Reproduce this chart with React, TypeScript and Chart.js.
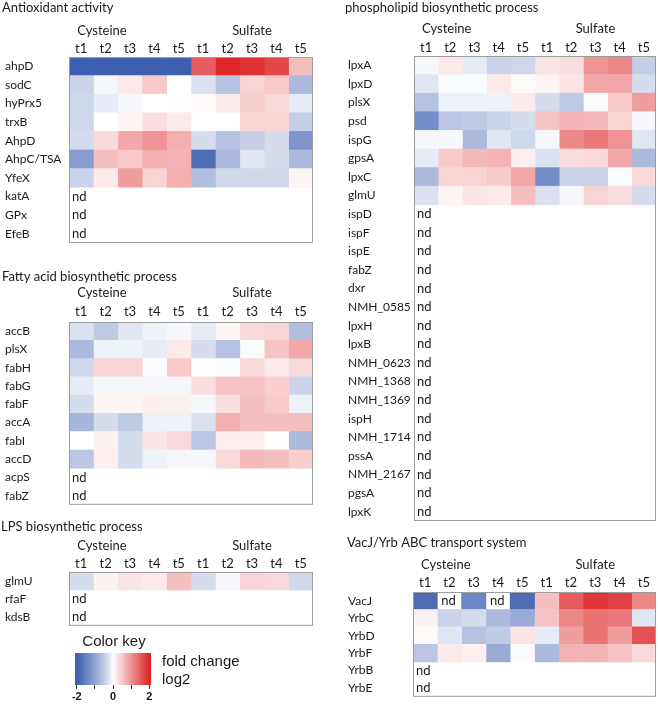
import React, { useEffect, useRef } from "react";
import { Chart, registerables } from "chart.js";

Chart.register(...registerables);

// ---------- data ----------
const timeLabels = ["t1", "t2", "t3", "t4", "t5", "t1", "t2", "t3", "t4", "t5"];
const groupLabels = ["Cysteine", "Sulfate"];

type Row = (number | null)[] | null;

const antioxGenes = ["ahpD", "sodC", "hyPrx5", "trxB", "AhpD", "AhpC/TSA", "YfeX", "katA", "GPx", "EfeB"];
const antioxValues: Row[] = [
  [-2, -2, -2, -2, -2, 1.5, 2.0, 1.9, 1.7, 0.6],
  [-0.4, -0.05, 0.2, 0.5, 0.0, -0.25, -0.6, 0.4, 0.5, -0.7],
  [-0.35, -0.15, -0.05, 0.0, 0.02, 0.05, 0.2, 0.45, 0.35, -0.15],
  [-0.35, 0.0, 0.1, 0.3, 0.2, 0.0, 0.0, 0.4, 0.4, -0.45],
  [-0.3, 0.35, 0.8, 1.0, 0.75, -0.3, -0.6, -0.45, -0.3, -1.2],
  [-1.1, 0.6, 0.5, 0.75, 0.7, -1.8, -0.7, -0.2, -0.3, -0.7],
  [-0.4, 0.2, 0.9, 0.4, 0.75, -0.65, -0.35, -0.35, -0.35, 0.1],
  null,
  null,
  null,
];

const phosphoGenes = [
  "lpxA", "lpxD", "plsX", "psd", "ispG", "gpsA", "lpxC", "glmU", "ispD", "ispF", "ispE", "fabZ", "dxr",
  "NMH_0585", "lpxH", "lpxB", "NMH_0623", "NMH_1368", "NMH_1369", "ispH", "NMH_1714", "pssA", "NMH_2167", "pgsA", "lpxK",
];
const phosphoValues: Row[] = [
  [-0.05, 0.2, -0.15, -0.4, -0.35, 0.25, 0.3, 1.0, 1.1, -0.45],
  [-0.2, -0.02, -0.02, 0.2, 0.05, 0.1, 0.25, 0.8, 0.8, -0.3],
  [-0.6, -0.1, -0.1, -0.1, 0.2, -0.3, -0.5, -0.02, 0.5, 0.9],
  [-1.3, -0.55, -0.5, -0.4, -0.3, 0.55, 0.7, 0.65, 0.4, -0.05],
  [-0.05, -0.05, -0.7, -0.2, -0.35, -0.05, 1.1, 1.25, 1.0, -0.2],
  [-0.15, 0.5, 0.65, 0.7, 0.15, -0.25, 0.3, 0.35, 0.8, -0.7],
  [-0.7, 0.4, 0.4, 0.5, 0.8, -1.3, -0.4, -0.4, -0.02, 0.35],
  [-0.25, 0.1, 0.25, 0.2, 0.6, -0.25, -0.05, 0.4, 0.3, -0.3],
  null, null, null, null, null, null, null, null, null, null, null, null, null, null, null, null, null,
];

const fattyGenes = ["accB", "plsX", "fabH", "fabG", "fabF", "accA", "fabI", "accD", "acpS", "fabZ"];
const fattyValues: Row[] = [
  [-0.25, -0.5, -0.2, -0.1, -0.05, -0.15, 0.1, 0.35, 0.4, -0.65],
  [-0.7, -0.1, -0.1, -0.15, 0.2, -0.3, -0.6, -0.02, 0.55, 0.8],
  [-0.35, 0.4, 0.4, -0.02, 0.5, 0.0, -0.02, 0.35, 0.2, 0.35],
  [-0.15, -0.05, -0.05, -0.05, -0.05, 0.3, 0.55, 0.55, 0.45, -0.4],
  [-0.3, 0.1, 0.1, 0.15, 0.12, -0.05, 0.3, 0.6, 0.5, -0.1],
  [-0.75, -0.3, -0.5, -0.1, -0.1, -0.25, 0.75, 0.6, 0.6, 0.6],
  [0.0, 0.12, -0.3, 0.25, 0.35, -0.55, 0.15, 0.15, 0.02, -0.7],
  [-0.55, 0.15, -0.3, -0.1, -0.05, -0.05, 0.35, 0.65, 0.6, 0.45],
  null,
  null,
];

const lpsGenes = ["glmU", "rfaF", "kdsB"];
const lpsValues: Row[] = [
  [-0.3, 0.12, 0.25, 0.2, 0.6, -0.3, -0.05, 0.4, 0.35, -0.35],
  null,
  null,
];

const vacGenes = ["VacJ", "YrbC", "YrbD", "YrbF", "YrbB", "YrbE"];
const vacValues: Row[] = [
  [-1.8, null, -1.4, null, -1.8, 0.6, 1.5, 1.85, 1.75, 1.1],
  [0.12, -0.4, -0.3, -0.7, -0.9, 0.55, 1.1, 1.3, 1.25, -0.2],
  [0.05, -0.2, -0.6, -0.5, 0.25, -0.15, 0.9, 1.3, 0.9, 1.6],
  [-0.55, 0.2, 0.15, -0.9, -0.02, -0.7, 0.7, 0.7, 0.55, 0.35],
  null,
  null,
];

const keyRange = [-2.1, 2.1];
const keyTicks = [-2, -1, 0, 1, 2];
const keyTickLabels = ["-2", "", "0", "", "2"];

// ---------- styling ----------
const FONT = "Lato, 'Open Sans', 'DejaVu Sans', sans-serif";
const KEY_FONT = "'Liberation Sans', Arial, sans-serif";
const TEXT = "#1a1a1a";
const BLUE = [62, 96, 176];
const RED = [222, 38, 40];
const MID = [255, 255, 255];

function heatColor(v: number): string {
  let t = Math.min(1, Math.abs(v) / 2);
  if (v < 0) t = Math.pow(t, 0.8);
  const e = v < 0 ? BLUE : RED;
  const c = MID.map((m, i) => Math.round(m + (e[i] - m) * t));
  return `rgb(${c[0]},${c[1]},${c[2]})`;
}

type Rect = { x: number; y: number; w: number; h: number };
type Box = { l: number; t: number; r: number; b: number };
type PanelCfg = {
  title: string;
  genes: string[];
  values: Row[];
  canvas: Rect;
  box: Box;
  labelX: number;
  titleX: number;
  titleY: number;
  groupY: number;
  tY: number;
};

const panels: PanelCfg[] = [
  {
    title: "Antioxidant activity", genes: antioxGenes, values: antioxValues,
    canvas: { x: 0, y: 0, w: 330, h: 252 }, box: { l: 69, t: 57, r: 313, b: 243 },
    labelX: 5, titleX: 2, titleY: 8, groupY: 31, tY: 50,
  },
  {
    title: "phospholipid biosynthetic process", genes: phosphoGenes, values: phosphoValues,
    canvas: { x: 330, y: 0, w: 328, h: 530 }, box: { l: 414, t: 56, r: 656, b: 521 },
    labelX: 348, titleX: 345, titleY: 8, groupY: 29, tY: 50,
  },
  {
    title: "Fatty acid biosynthetic process", genes: fattyGenes, values: fattyValues,
    canvas: { x: 0, y: 262, w: 330, h: 250 }, box: { l: 69, t: 322, r: 313, b: 506 },
    labelX: 5, titleX: 2, titleY: 277, groupY: 293, tY: 312,
  },
  {
    title: "LPS biosynthetic process", genes: lpsGenes, values: lpsValues,
    canvas: { x: 0, y: 515, w: 330, h: 118 }, box: { l: 69, t: 572, r: 313, b: 628 },
    labelX: 5, titleX: 1, titleY: 527, groupY: 546, tY: 564,
  },
  {
    title: "VacJ/Yrb ABC transport system", genes: vacGenes, values: vacValues,
    canvas: { x: 330, y: 532, w: 328, h: 172 }, box: { l: 413, t: 592, r: 656, b: 702 },
    labelX: 348, titleX: 347, titleY: 543, groupY: 565, tY: 583,
  },
];

const groupPositions = [1.35, 7.5];
const AXIS_H = 20;

function makeHeatmap(canvas: HTMLCanvasElement, p: PanelCfg): Chart {
  const cx = p.canvas.x;
  const cy = p.canvas.y;
  const lineHalf = 13 * 1.2 / 2;
  const tickPad = Math.max(0, p.box.t - p.tY - lineHalf);
  const datasets = timeLabels.map((_, j) => ({
    label: `c${j}`,
    data: p.values.map((row) => (row == null || row[j] == null ? null : [j, j + 1])) as any,
    backgroundColor: p.values.map((row) =>
      row == null || row[j] == null ? "rgba(0,0,0,0)" : heatColor(row[j] as number)
    ),
    borderWidth: 0,
    grouped: false,
    barPercentage: 1,
    categoryPercentage: 1,
    xAxisID: "x",
    yAxisID: "y",
  }));

  const overlay = {
    id: "overlay" + p.title,
    afterDraw(chart: any) {
      const ctx = chart.ctx as CanvasRenderingContext2D;
      const ca = chart.chartArea;
      const xs = chart.scales.x;
      const ys = chart.scales.y;
      ctx.save();
      ctx.fillStyle = TEXT;
      ctx.font = `13px ${FONT}`;
      ctx.textBaseline = "middle";
      ctx.textAlign = "left";
      ctx.fillText(p.title, p.titleX - cx, p.titleY - cy);
      ctx.textAlign = "center";
      groupLabels.forEach((g, k) => {
        ctx.fillText(g, xs.getPixelForValue(groupPositions[k]), p.groupY - cy);
      });
      ctx.textAlign = "left";
      p.values.forEach((row, i) => {
        const yy = ys.getPixelForValue(i);
        if (row == null) {
          ctx.fillText("nd", ca.left + 3, yy);
        } else {
          row.forEach((v, j) => {
            if (v == null) ctx.fillText("nd", xs.getPixelForValue(j) + 4, yy);
          });
        }
      });
      ctx.strokeStyle = "#9c9c9c";
      ctx.lineWidth = 1;
      ctx.strokeRect(ca.left + 0.5, ca.top + 0.5, ca.right - ca.left - 1, ca.bottom - ca.top - 1);
      ctx.restore();
    },
  };

  return new Chart(canvas, {
    type: "bar",
    data: { labels: p.genes, datasets },
    plugins: [overlay],
    options: {
      indexAxis: "y",
      responsive: false,
      animation: false,
      events: [],
      layout: {
        padding: {
          left: p.labelX - cx,
          right: cx + p.canvas.w - p.box.r,
          top: p.box.t - cy - AXIS_H,
          bottom: cy + p.canvas.h - p.box.b,
        },
      },
      plugins: { legend: { display: false }, tooltip: { enabled: false }, title: { display: false } },
      scales: {
        x: { type: "linear", min: 0, max: 10, display: false },
        xt: {
          type: "category",
          labels: timeLabels,
          position: "top",
          offset: true,
          grid: { display: false, drawTicks: false },
          border: { display: false },
          ticks: { font: { size: 13, family: FONT }, color: TEXT, padding: tickPad, autoSkip: false, maxRotation: 0 },
          afterFit: (s: any) => { s.height = AXIS_H; },
        },
        y: {
          type: "category",
          position: "left",
          offset: true,
          grid: { display: false, drawTicks: false },
          border: { display: false },
          ticks: { font: { size: 12, family: FONT }, color: TEXT, padding: 0, crossAlign: "far", autoSkip: false },
          afterFit: (s: any) => { s.width = p.box.l - p.labelX; },
        },
      } as any,
    },
  } as any);
}

const keyCanvas: Rect = { x: 60, y: 635, w: 200, h: 69 };
const keyBox: Box = { l: 75, t: 653, r: 151, b: 685 };

function makeKey(canvas: HTMLCanvasElement): Chart {
  const cx = keyCanvas.x;
  const cy = keyCanvas.y;
  const overlay = {
    id: "keyOverlay",
    afterDraw(chart: any) {
      const ctx = chart.ctx as CanvasRenderingContext2D;
      const ca = chart.chartArea;
      ctx.save();
      ctx.fillStyle = TEXT;
      ctx.font = `15px ${KEY_FONT}`;
      ctx.textBaseline = "middle";
      ctx.textAlign = "center";
      ctx.fillText("Color key", (ca.left + ca.right) / 2 + 1, 642 - cy);
      ctx.textAlign = "left";
      ctx.fillText("fold change", 162 - cx, 662 - cy);
      ctx.fillText("log2", 162 - cx, 680 - cy);
      ctx.restore();
    },
  };
  return new Chart(canvas, {
    type: "bar",
    data: {
      labels: [""],
      datasets: [
        {
          data: [keyRange] as any,
          backgroundColor: (c: any) => {
            const chart = c.chart;
            const ca = chart.chartArea;
            if (!ca) return "#fff";
            const xs = chart.scales.x;
            const g = chart.ctx.createLinearGradient(ca.left, 0, ca.right, 0);
            for (let v = -2; v <= 2.0001; v += 0.25) {
              const pos = (xs.getPixelForValue(v) - ca.left) / (ca.right - ca.left);
              g.addColorStop(Math.min(1, Math.max(0, pos)), heatColor(v));
            }
            return g;
          },
          borderWidth: 0,
          barPercentage: 1,
          categoryPercentage: 1,
        },
      ],
    },
    plugins: [overlay],
    options: {
      indexAxis: "y",
      responsive: false,
      animation: false,
      events: [],
      layout: {
        padding: {
          left: keyBox.l - cx,
          right: cx + keyCanvas.w - keyBox.r,
          top: keyBox.t - cy,
          bottom: 0,
        },
      },
      plugins: { legend: { display: false }, tooltip: { enabled: false } },
      scales: {
        x: {
          type: "linear",
          min: keyRange[0],
          max: keyRange[1],
          position: "bottom",
          grid: { drawOnChartArea: false, drawTicks: true, tickLength: 4, color: "#333", lineWidth: 1 },
          border: { display: false },
          ticks: {
            padding: 1,
            color: TEXT,
            autoSkip: false,
            maxRotation: 0,
            font: { size: 11, weight: "bold", family: KEY_FONT },
            callback: (v: any) => {
              const i = keyTicks.indexOf(Number(v));
              return i >= 0 ? keyTickLabels[i] : "";
            },
          },
          afterBuildTicks: (s: any) => {
            s.ticks = keyTicks.map((v) => ({ value: v }));
          },
          afterFit: (s: any) => { s.height = cy + keyCanvas.h - keyBox.b; },
        },
        y: { display: false },
      } as any,
    },
  } as any);
}

function ChartCanvas({ rect, make }: { rect: Rect; make: (c: HTMLCanvasElement) => Chart }) {
  const ref = useRef<HTMLCanvasElement>(null);
  useEffect(() => {
    const chart = make(ref.current as HTMLCanvasElement);
    return () => chart.destroy();
  }, []);
  return (
    <canvas
      ref={ref}
      width={rect.w}
      height={rect.h}
      style={{ position: "absolute", left: rect.x, top: rect.y, width: rect.w, height: rect.h }}
    />
  );
}

export default function App() {
  return (
    <div style={{ position: "absolute", left: 0, top: 0, width: 658, height: 704, background: "#fff", overflow: "hidden" }}>
      {panels.map((p) => (
        <ChartCanvas key={p.title} rect={p.canvas} make={(c) => makeHeatmap(c, p)} />
      ))}
      <ChartCanvas rect={keyCanvas} make={makeKey} />
    </div>
  );
}
